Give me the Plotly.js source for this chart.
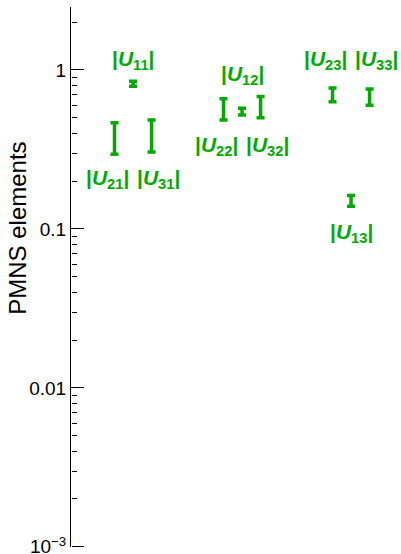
<!DOCTYPE html>
<html>
<head>
<meta charset="utf-8">
<script src="https://cdn.plot.ly/plotly-3.0.1.min.js"></script>
<style>html,body{margin:0;padding:0;background:#fff;}#chart{width:401px;height:554px;}</style>
</head>
<body>
<div id="chart"></div>
<script>
// PMNS matrix elements |U_{row,col}| (ranges)
const elementRow = [1, 2, 3, 1, 2, 3, 1, 2, 3];
const elementCol = [1, 1, 1, 2, 2, 2, 3, 3, 3];
const lowerBound = [0.79, 0.295, 0.305, 0.52, 0.485, 0.50, 0.139, 0.63, 0.60];
const upperBound = [0.85, 0.465, 0.485, 0.575, 0.66, 0.68, 0.162, 0.77, 0.76];
const labelText = ["|U11|", "|U21|", "|U31|", "|U12|", "|U22|", "|U32|", "|U13|", "|U23|", "|U33|"];
const labelSide = ["above", "below", "below", "above", "below", "below", "below", "above", "above"];
const tickValues = [0.001, 0.01, 0.1, 1];
const tickLabels = ["10<sup>\u22123</sup>", "0.01", "0.1", "1"];

// layout-only helpers (pixel offsets for the labels)
const labelOffsetPx = [21, -25, -27, 33, -26, -28, -27, 28, 29];
const rowOffset = {1: 0, 2: -0.17, 3: 0.17};
const rowLabelShift = {1: 0, 2: -7, 3: 7};

const green = 'rgb(0,170,0)';
const font = 'Arial, "Liberation Sans", sans-serif';

const xs = elementRow.map((r, i) => elementCol[i] + rowOffset[r]);
const center = lowerBound.map((lo, i) => Math.sqrt(lo * upperBound[i]));
const errPlus = upperBound.map((u, i) => u - center[i]);
const errMinus = lowerBound.map((l, i) => center[i] - l);

const trace = {
  x: xs, y: center, type: 'scatter', mode: 'markers',
  marker: {size: 1, color: green, opacity: 0},
  error_y: {type: 'data', symmetric: false, array: errPlus, arrayminus: errMinus,
            color: green, thickness: 3.5, width: 4},
  hoverinfo: 'skip', showlegend: false
};
// invisible traces to activate the tick-only overlay axes
const majorTickTrace = {x: [1], y: [0.5], yaxis: 'y2', type: 'scatter', mode: 'markers',
  marker: {opacity: 0}, hoverinfo: 'skip', showlegend: false};
const minorTickTrace = {x: [1], y: [0.5], yaxis: 'y3', type: 'scatter', mode: 'markers',
  marker: {opacity: 0}, hoverinfo: 'skip', showlegend: false};

const minorVals = [];
[0.001, 0.01, 0.1, 1].forEach(d => { for (let k = 2; k <= 9; k++) minorVals.push(d * k); });

function fmtLabel(s) {
  const m = s.match(/^\|U(\d+)\|$/);
  return '<b>|<i>U</i><sub>' + m[1] + '</sub>|</b>';
}

const annotations = labelText.map((t, i) => ({
  x: xs[i],
  y: Math.log10(labelSide[i] === 'above' ? upperBound[i] : lowerBound[i]),
  xref: 'x', yref: 'y', text: fmtLabel(t), showarrow: false,
  xanchor: 'center', yanchor: 'middle',
  yshift: labelOffsetPx[i], xshift: rowLabelShift[elementRow[i]],
  font: {family: font, size: 21, color: green}
}));

annotations.push({
  xref: 'paper', yref: 'paper', x: -0.163, y: 0.59, xanchor: 'center', yanchor: 'middle',
  text: 'PMNS elements', textangle: -90, showarrow: false,
  font: {family: font, size: 24, color: '#000'}
});

const yRange = [-3.001, 0.396];
const tickAxis = (vals, len) => ({
  type: 'log', range: yRange, autorange: false, overlaying: 'y',
  side: 'right', anchor: 'free', position: 0,
  showline: false, showgrid: false, zeroline: false,
  ticks: 'outside', ticklen: len, tickcolor: 'black', tickwidth: 1,
  tickmode: 'array', tickvals: vals, showticklabels: false
});

const layout = {
  width: 401, height: 554,
  margin: {l: 71, r: 1, t: 7, b: 7},
  showlegend: false,
  xaxis: {visible: true, range: [0.431, 3.449], showline: false, showgrid: false, zeroline: false,
          ticks: '', showticklabels: false},
  yaxis: {
    type: 'log', range: yRange, autorange: false,
    showline: true, linecolor: 'black', linewidth: 1,
    showgrid: false, zeroline: false,
    ticks: 'inside', ticklen: 12, tickcolor: 'black', tickwidth: 1,
    tickmode: 'array', tickvals: tickValues, ticktext: tickLabels,
    ticklabeloverflow: 'allow',
    tickfont: {family: font, size: 19, color: '#000'}
  },
  yaxis2: tickAxis(tickValues, 12),
  yaxis3: tickAxis(minorVals, 5),
  annotations: annotations
};

Plotly.newPlot('chart', [trace, majorTickTrace, minorTickTrace], layout, {staticPlot: true, displayModeBar: false});
</script>
</body>
</html>
